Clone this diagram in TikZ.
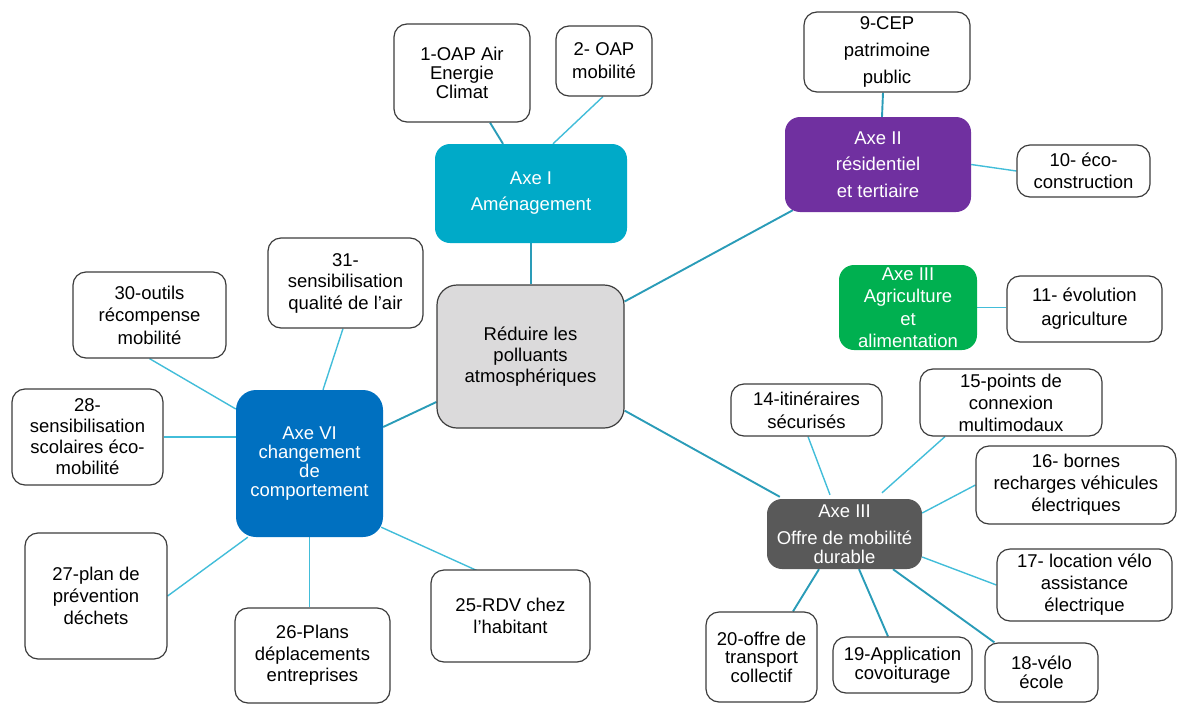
\documentclass[tikz,border=0pt]{standalone}
\usepackage{fontspec}
\setmainfont{Liberation Sans}
\usetikzlibrary{backgrounds}

\definecolor{boxline}{HTML}{3C3C3C}
\definecolor{goalfill}{HTML}{DBDADB}
\definecolor{axeone}{HTML}{00AAC8}
\definecolor{axetwo}{HTML}{7030A0}
\definecolor{axeagri}{HTML}{00B050}
\definecolor{axemob}{HTML}{595959}
\definecolor{axesix}{HTML}{0070C0}
\definecolor{linklight}{HTML}{42BDD9}
\definecolor{linkdark}{HTML}{2A9CB8}

\tikzset{
  lh/.style={font=\fontsize{18.5}{#1}\selectfont},
  leaf/.style={draw=boxline, line width=1.2pt, rounded corners=13pt, fill=white,
    align=center, text=black, inner sep=0pt, lh=21.5pt},
  axis/.style={rounded corners=15pt, align=center, text=white, inner sep=0pt, lh=21.5pt},
  goalbox/.style={draw=boxline, line width=1.2pt, rounded corners=20pt, fill=goalfill,
    align=center, text=black, inner sep=0pt, lh=21pt},
  thin link/.style={draw=linklight, line width=1.4pt},
  thick link/.style={draw=linkdark, line width=1.9pt},
}

\begin{document}
\begin{tikzpicture}[x=1pt, y=-1pt]
\useasboundingbox (0,0) rectangle (1177,704);

% central goal
\node[goalbox, minimum width=187pt, minimum height=143pt] (goal) at (530.5,356.5)
  {Réduire les\\polluants\\atmosphériques};

% Axe I
\node[axis, fill=axeone, minimum width=192pt, minimum height=99pt, lh=26pt] (axeI) at (531,193.5)
  {Axe I\\Aménagement};
\node[leaf, minimum width=136pt, minimum height=98pt, lh=19pt] (oap1) at (462,73)
  {1-OAP Air\\Energie\\Climat};
\node[leaf, minimum width=96pt, minimum height=70pt, lh=23pt] (oap2) at (604,61)
  {2- OAP\\mobilité};

% Axe II
\node[axis, fill=axetwo, minimum width=186pt, minimum height=95pt, lh=26.5pt] (axeII) at (878,164.5)
  {Axe II\\résidentiel\\et tertiaire};
\node[leaf, minimum width=166pt, minimum height=80pt, lh=27pt] (cep9) at (887,52)
  {9-CEP\\patrimoine\\public};
\node[leaf, minimum width=133pt, minimum height=52pt, lh=22pt] (eco10) at (1083.5,171)
  {10- éco-\\construction};

% Axe III agriculture
\node[axis, fill=axeagri, minimum width=138pt, minimum height=85pt, lh=22.5pt] (agri) at (908,307.5)
  {Axe III\\Agriculture\\et\\alimentation};
\node[leaf, minimum width=155pt, minimum height=66pt, lh=24pt] (evol11) at (1084.5,309)
  {11- évolution\\agriculture};

% Axe III mobility
\node[axis, fill=axemob, minimum width=155pt, minimum height=70pt, lh=19pt] (mob) at (844.5,534)
  {Axe III\\[8pt]Offre de mobilité\\durable};
\node[leaf, minimum width=151pt, minimum height=52pt, lh=23pt] (it14) at (806.5,410)
  {14-itinéraires\\sécurisés};
\node[leaf, minimum width=182pt, minimum height=67pt, lh=22pt] (pt15) at (1011,402.5)
  {15-points de\\connexion\\multimodaux};
\node[leaf, minimum width=200pt, minimum height=78pt, lh=22pt] (bo16) at (1076,485)
  {16- bornes\\recharges véhicules\\électriques};
\node[leaf, minimum width=175pt, minimum height=72pt, lh=22pt] (lo17) at (1084.5,585)
  {17- location vélo\\assistance\\électrique};
\node[leaf, minimum width=113pt, minimum height=59pt, lh=19pt] (ve18) at (1041.5,672.5)
  {18-vélo\\école};
\node[leaf, minimum width=139pt, minimum height=56pt, lh=19pt] (app19) at (902.5,665)
  {19-Application\\covoiturage};
\node[leaf, minimum width=111pt, minimum height=90pt, lh=18.5pt] (of20) at (761.5,657)
  {20-offre de\\transport\\collectif};

% Axe VI
\node[axis, fill=axesix, rounded corners=20pt, minimum width=147pt, minimum height=147pt, lh=19pt] (axeVI) at (309.5,463.5)
  {Axe VI\\changement\\de\\comportement};
\node[leaf, minimum width=155pt, minimum height=90pt] (s31) at (345.5,283)
  {31-\\sensibilisation\\qualité de l’air};
\node[leaf, minimum width=153pt, minimum height=86pt, lh=22.5pt] (o30) at (149.5,315)
  {30-outils\\récompense\\mobilité};
\node[leaf, minimum width=151pt, minimum height=96pt, lh=21pt] (s28) at (87.5,437)
  {28-\\sensibilisation\\scolaires éco-\\mobilité};
\node[leaf, minimum width=142pt, minimum height=126pt, lh=22pt] (p27) at (96,596)
  {27-plan de\\prévention\\déchets};
\node[leaf, minimum width=155pt, minimum height=95pt] (pl26) at (312.5,655.5)
  {26-Plans\\déplacements\\entreprises};
\node[leaf, minimum width=159pt, minimum height=92pt, lh=22pt] (rdv25) at (510.5,616)
  {25-RDV chez\\l’habitant};

% connectors, kept behind the boxes
\begin{pgfonlayer}{background}
  % around the goal
  \draw[thick link] (axeI.south) -- (axeI.south |- goal.north);
  \draw[thick link] ([yshift=55pt]goal.east) -- ([xshift=8pt,yshift=2pt]axeII.south west);
  \draw[thick link] ([yshift=18pt]goal.south east) -- ([xshift=13pt,yshift=2pt]mob.north west);
  \draw[thick link] ([yshift=36.5pt]axeVI.east) -- ([yshift=-45.5pt]goal.west);
  % Axe I
  \draw[thick link] ([xshift=28pt]oap1.south) -- ([xshift=-28pt]axeI.north);
  \draw[thin link] ([xshift=-1pt]oap2.south) -- ([xshift=22pt]axeI.north);
  % Axe II
  \draw[thick link] ([xshift=-4pt]cep9.south) -- ([xshift=4pt]axeII.north);
  \draw[thin link] (axeII.east) -- (eco10.west);
  % Axe III agriculture
  \draw[thin link] (agri.east) -- (agri.east -| evol11.west);
  % Axe III mobility
  \draw[thin link] ([xshift=1.5pt]it14.south) -- ([xshift=-14.5pt,yshift=4pt]mob.north);
  \draw[thin link] ([xshift=-66pt]pt15.south) -- ([xshift=37.5pt,yshift=6pt]mob.north);
  \draw[thin link] (bo16.west) -- ([yshift=21pt]mob.east);
  \draw[thin link] (lo17.west) -- ([yshift=-23pt]mob.east);
  \draw[thick link] ([xshift=10pt]ve18.north west) -- ([xshift=48.5pt]mob.south);
  \draw[thick link] ([xshift=-14.5pt]app19.north) -- ([xshift=14.5pt]mob.south);
  \draw[thick link] ([xshift=31.5pt]of20.north) -- ([xshift=-25.5pt]mob.south);
  % Axe VI
  \draw[thin link] ([xshift=-2.5pt]s31.south) -- ([xshift=13.5pt]axeVI.north);
  \draw[thin link] (o30.south) -- ([yshift=54.5pt]axeVI.west);
  \draw[thin link] (s28.east) -- (s28.east -| axeVI.west);
  \draw[thin link] (p27.east) -- ([xshift=12pt]axeVI.south west);
  \draw[thin link] (axeVI.south) -- (axeVI.south |- pl26.north);
  \draw[thin link] ([xshift=-2pt,yshift=10pt]axeVI.south east) -- ([xshift=-29.5pt,yshift=-3pt]rdv25.north);
\end{pgfonlayer}
\end{tikzpicture}
\end{document}
